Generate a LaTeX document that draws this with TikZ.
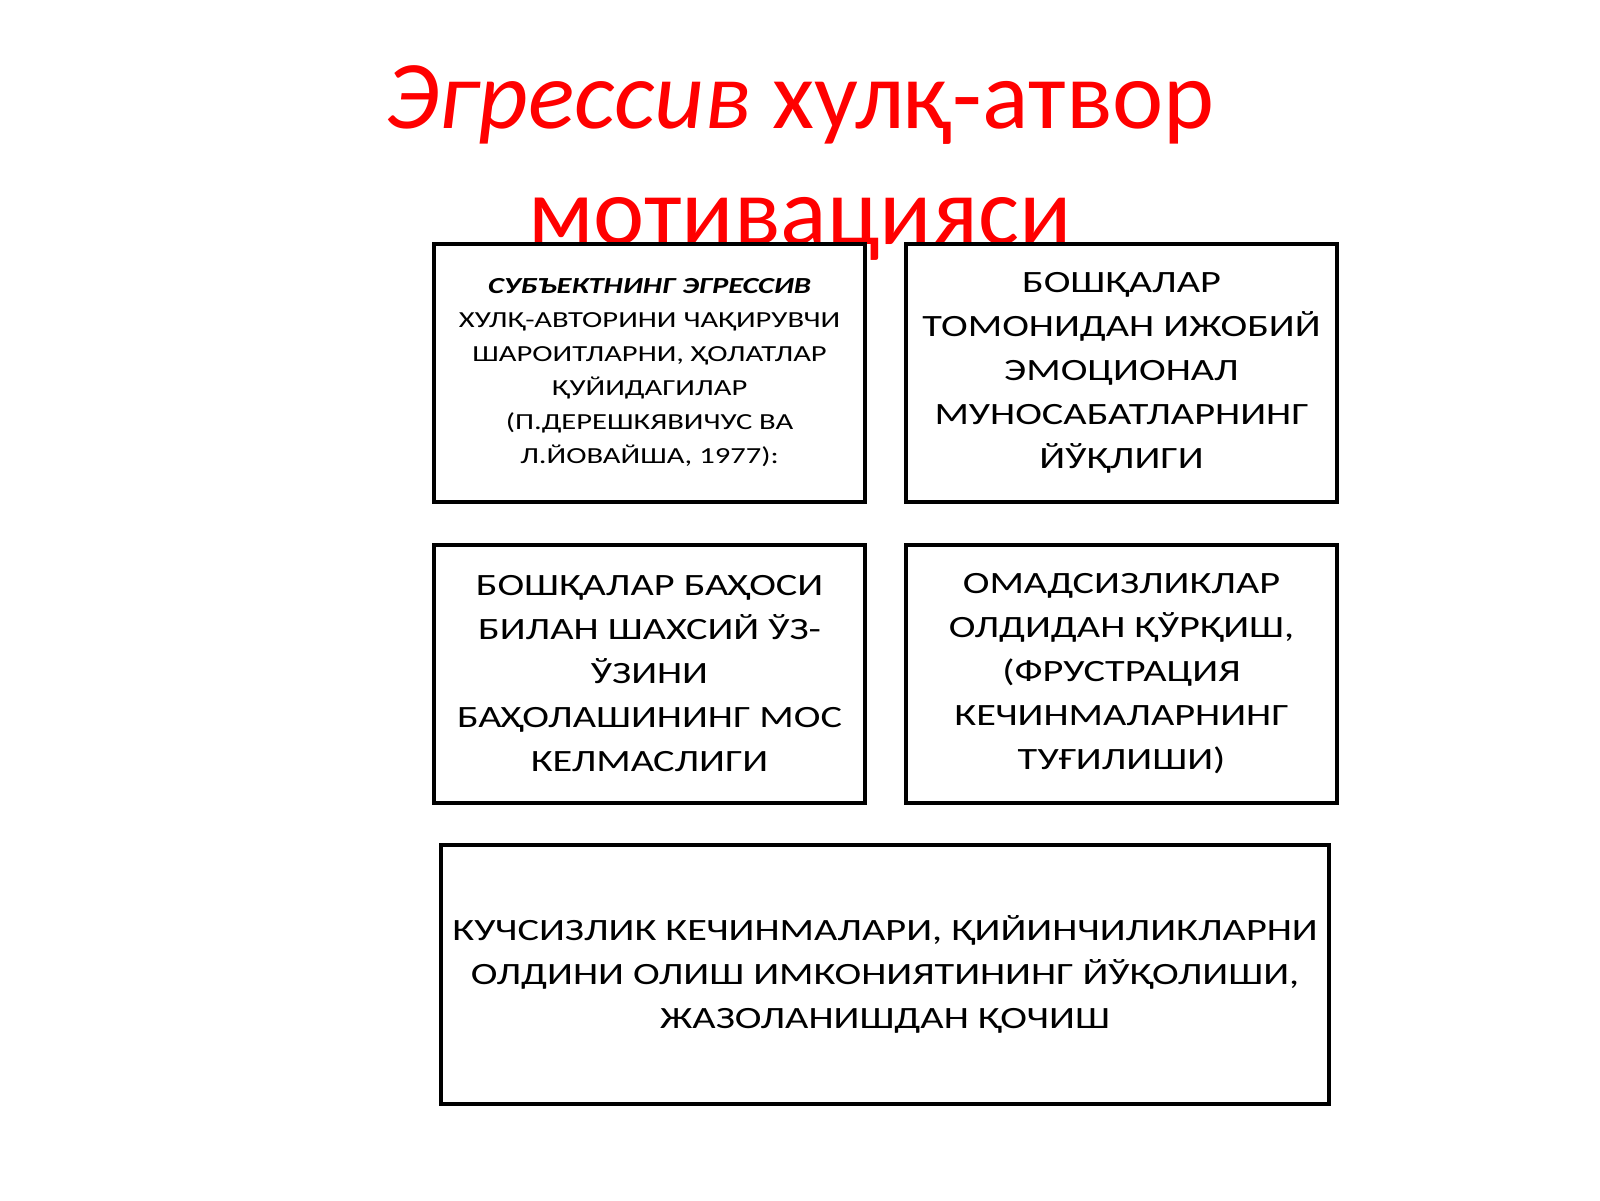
\documentclass[tikz,border=0pt]{standalone}
\usepackage{fontspec}
\setmainfont{Carlito}
\newfontfamily\cellfont[FakeStretch=1.3]{Carlito}
\newfontfamily\smallcellfont[FakeStretch=1.33]{Carlito}
\definecolor{titlered}{RGB}{255,0,0}
\tikzset{
  titletext/.style={text=titlered, font=\fontsize{48.5pt}{58pt}\selectfont, anchor=base, inner sep=0pt},
  cellbox/.style={draw=black, fill=white, line width=1.75pt, minimum width=215.5pt, minimum height=129pt, inner sep=0pt, align=center, font=\cellfont\fontsize{15.5pt}{22pt}\selectfont},
  smallcell/.style={cellbox, font=\smallcellfont\fontsize{11.5pt}{17pt}\selectfont},
  widebox/.style={cellbox, minimum width=444pt, minimum height=129.5pt}
}
\begin{document}
\begin{tikzpicture}[x=0.5pt,y=-0.5pt]
\useasboundingbox (0,0) rectangle (1600,1200);
\fill[white] (0,0) rectangle (1600,1200);
\node[titletext] (t1) at (800,128) {\textit{Эгрессив} хулқ-атвор};
\node[titletext] (t2) at (800,244) {мотивацияси};
\node[smallcell] (b1) at (649.5,373) {\textbf{\textit{СУБЪЕКТНИНГ ЭГРЕССИВ}}\\ХУЛҚ-АВТОРИНИ ЧАҚИРУВЧИ\\ШАРОИТЛАРНИ, ҲОЛАТЛАР\\ҚУЙИДАГИЛАР\\(П.ДЕРЕШКЯВИЧУС ВА\\Л.ЙОВАЙША, 1977):};
\node[cellbox] (b2) at (1121.5,373) {БОШҚАЛАР\\ТОМОНИДАН ИЖОБИЙ\\ЭМОЦИОНАЛ\\МУНОСАБАТЛАРНИНГ\\ЙЎҚЛИГИ};
\node[cellbox] (b3) at (649.5,674) {БОШҚАЛАР БАҲОСИ\\БИЛАН ШАХСИЙ ЎЗ-\\ЎЗИНИ\\БАҲОЛАШИНИНГ МОС\\КЕЛМАСЛИГИ};
\node[cellbox] (b4) at (1121.5,674) {ОМАДСИЗЛИКЛАР\\ОЛДИДАН ҚЎРҚИШ,\\(ФРУСТРАЦИЯ\\КЕЧИНМАЛАРНИНГ\\ТУҒИЛИШИ)};
\node[widebox] (b5) at (885,974.5) {КУЧСИЗЛИК КЕЧИНМАЛАРИ, ҚИЙИНЧИЛИКЛАРНИ\\ОЛДИНИ ОЛИШ ИМКОНИЯТИНИНГ ЙЎҚОЛИШИ,\\ЖАЗОЛАНИШДАН ҚОЧИШ};
\end{tikzpicture}
\end{document}
